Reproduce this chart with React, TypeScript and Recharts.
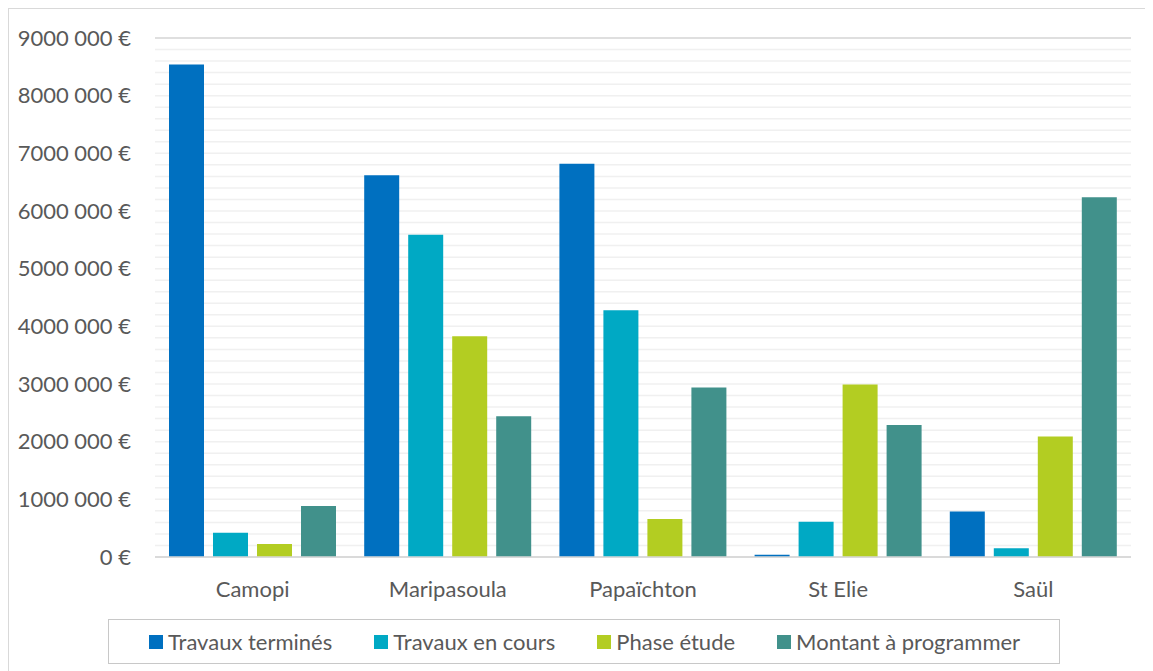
import React from "react";
import {
  BarChart,
  Bar,
  XAxis,
  YAxis,
  CartesianGrid,
  Legend,
} from "recharts";

// Communes
const communes = ["Camopi", "Maripasoula", "Papaïchton", "St Elie", "Saül"];

// Montants en euros par état d'avancement
const travauxTermines = [8540000, 6620000, 6820000, 40000, 790000];
const travauxEnCours = [420000, 5590000, 4280000, 610000, 150000];
const phaseEtude = [225000, 3830000, 660000, 2990000, 2090000];
const montantAProgrammer = [885000, 2440000, 2940000, 2290000, 6240000];

const seriesNames = [
  "Travaux terminés",
  "Travaux en cours",
  "Phase étude",
  "Montant à programmer",
];
const seriesColors = ["#0070C0", "#00A9C4", "#B3CD22", "#41918B"];

// Axe des montants : graduations principales (avec libellé) et secondaires
const yMajorTicks = [0, 1000000, 2000000, 3000000, 4000000, 5000000, 6000000, 7000000, 8000000, 9000000];
const yTickLabels = [
  "0 €",
  "1000 000 €",
  "2000 000 €",
  "3000 000 €",
  "4000 000 €",
  "5000 000 €",
  "6000 000 €",
  "7000 000 €",
  "8000 000 €",
  "9000 000 €",
];
const yAllTicks = [
  0, 200000, 400000, 600000, 800000,
  1000000, 1200000, 1400000, 1600000, 1800000,
  2000000, 2200000, 2400000, 2600000, 2800000,
  3000000, 3200000, 3400000, 3600000, 3800000,
  4000000, 4200000, 4400000, 4600000, 4800000,
  5000000, 5200000, 5400000, 5600000, 5800000,
  6000000, 6200000, 6400000, 6600000, 6800000,
  7000000, 7200000, 7400000, 7600000, 7800000,
  8000000, 8200000, 8400000, 8600000, 8800000,
  9000000,
];

const data = communes.map((c, i) => ({
  commune: c,
  termines: travauxTermines[i],
  enCours: travauxEnCours[i],
  etude: phaseEtude[i],
  aProgrammer: montantAProgrammer[i],
}));

const dataKeys = ["termines", "enCours", "etude", "aProgrammer"];

const FONT = "Lato, 'Open Sans', sans-serif";
const TEXT = "#595959";

const LegendBox = () => (
  <div
    style={{
      boxSizing: "border-box",
      width: "100%",
      height: "100%",
      border: "1.5px solid #C8C8C8",
      display: "flex",
      alignItems: "center",
      paddingLeft: 40,
      fontFamily: FONT,
      fontSize: 22,
      color: TEXT,
      whiteSpace: "nowrap",
    }}
  >
    {seriesNames.map((name, i) => (
      <div
        key={name}
        style={{
          display: "flex",
          alignItems: "center",
          marginRight: 42,
        }}
      >
        <span
          style={{
            display: "inline-block",
            width: 14,
            height: 14,
            background: seriesColors[i],
            marginRight: 5,
          }}
        />
        <span>{name}</span>
      </div>
    ))}
  </div>
);

export default function App() {
  return (
    <div
      style={{
        width: 1145,
        height: 663,
        boxSizing: "border-box",
        borderTop: "1.5px solid #D9D9D9",
        borderLeft: "1.5px solid #D9D9D9",
        background: "#fff",
      }}
    >
      <BarChart
        width={1144}
        height={662}
        data={data}
        margin={{ top: 29, right: 22, bottom: 84, left: 0 }}
        barCategoryGap={14}
        barGap={9}
      >
        {/* grille secondaire tous les 200 000 € */}
        <CartesianGrid
          yAxisId="main"
          vertical={false}
          stroke="#F0F0F0"
          strokeWidth={1.5}
        />
        {/* grille principale tous les 1 000 000 € */}
        <CartesianGrid
          yAxisId="major"
          vertical={false}
          stroke="#D9D9D9"
          strokeWidth={1.5}
        />
        <XAxis
          dataKey="commune"
          height={30}
          tickLine={false}
          axisLine={{ stroke: "#D9D9D9", strokeWidth: 1.5 }}
          tickSize={0}
          tickMargin={24}
          tick={{ fill: TEXT, fontSize: 22, fontFamily: FONT }}
        />
        <YAxis
          yAxisId="main"
          width={146}
          domain={[0, 9000000]}
          ticks={yAllTicks}
          type="number"
          axisLine={false}
          tickLine={false}
          tickSize={0}
          tickMargin={24}
          interval={0}
          tickFormatter={(v: number) => {
            const i = yMajorTicks.indexOf(v);
            return i >= 0 ? yTickLabels[i] : "";
          }}
          tick={{ fill: TEXT, fontSize: 22, fontFamily: FONT }}
        />
        <YAxis
          yAxisId="major"
          orientation="right"
          width={0}
          domain={[0, 9000000]}
          ticks={yMajorTicks}
          type="number"
          interval={0}
          axisLine={false}
          tickLine={false}
          tick={false}
        />
        {dataKeys.map((k, i) => (
          <Bar
            key={k}
            yAxisId="main"
            dataKey={k}
            name={seriesNames[i]}
            fill={seriesColors[i]}
            isAnimationActive={false}
          />
        ))}
        <Legend
          layout="horizontal"
          verticalAlign="middle"
          align="center"
          content={() => <LegendBox />}
          wrapperStyle={{ left: 99, top: 610, width: 952, height: 45 }}
        />
      </BarChart>
    </div>
  );
}
